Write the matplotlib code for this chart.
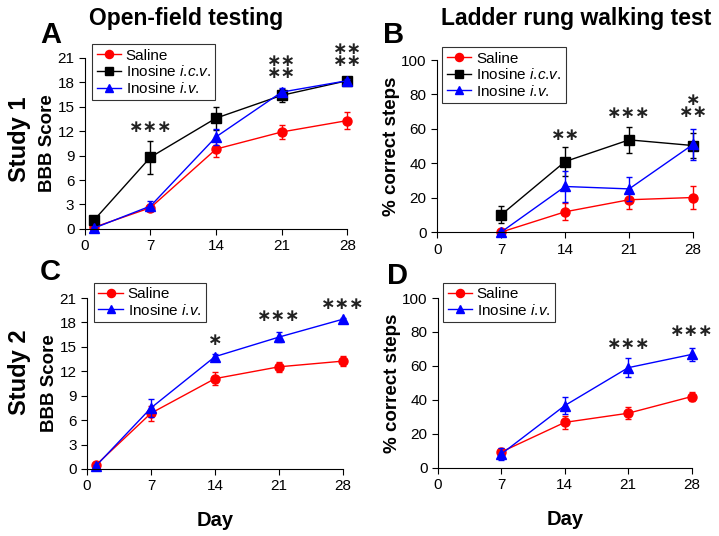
import numpy as np
import matplotlib.pyplot as plt

plt.rcParams['font.family'] = ['Liberation Sans', 'DejaVu Sans']
plt.rcParams['mathtext.fontset'] = 'custom'
plt.rcParams['mathtext.it'] = 'Liberation Sans:italic'
plt.rcParams['mathtext.rm'] = 'Liberation Sans'

# Study 1, open field (BBB score)
daysA = [1, 7, 14, 21, 28]
a_sal = [0.2, 2.6, 9.8, 11.9, 13.3]
a_sal_err = [0.2, 0.4, 1.0, 0.9, 1.0]
a_icv = [1.1, 8.8, 13.6, 16.4, 18.2]
a_icv_err = [0.3, 2.0, 1.4, 0.8, 0.2]
a_iv = [0.1, 2.8, 11.3, 16.8, 18.2]
a_iv_err = [0.1, 0.6, 1.0, 0.5, 0.2]

# Study 1, ladder rung (% correct)
daysB = [7, 14, 21, 28]
b_sal = [0, 11.8, 18.8, 20.1]
b_sal_err = [0.5, 5.0, 5.5, 6.5]
b_icv = [10, 41, 53.6, 50.3]
b_icv_err = [5.0, 8.5, 7.7, 7.0]
b_iv = [0, 26.5, 25.1, 51]
b_iv_err = [0.5, 9.0, 7.0, 9.0]

# Study 2, open field
c_sal = [0.5, 6.85, 11.1, 12.55, 13.25]
c_sal_err = [0.2, 0.9, 0.8, 0.6, 0.6]
c_iv = [0.4, 7.5, 13.8, 16.2, 18.4]
c_iv_err = [0.1, 1.1, 0.3, 0.6, 0.2]

# Study 2, ladder rung
d_sal = [9.4, 26.8, 32.2, 42]
d_sal_err = [2.0, 4.0, 3.5, 2.5]
d_iv = [8.2, 36.7, 59, 66.8]
d_iv_err = [3.5, 5.0, 5.5, 4.0]

# significance stars: (day, y, number of stars)
starsA = [(7, 12.5, 3), (21, 20.6, 2), (21, 19.2, 2), (28, 22.1, 2), (28, 20.6, 2)]
starsB = [(14, 56.5, 2), (21, 69, 3), (28, 77, 1), (28, 70, 2)]
starsC = [(14, 15.9, 1), (21, 18.8, 3), (28, 20.3, 3)]
starsD = [(21, 72.9, 3), (28, 80.5, 3)]

fig = plt.figure(figsize=(7.19, 5.36), dpi=100)
axA = fig.add_axes([0.118, 0.573, 0.365, 0.319])
axB = fig.add_axes([0.608, 0.567, 0.356, 0.321])
axC = fig.add_axes([0.121, 0.125, 0.356, 0.319])
axD = fig.add_axes([0.609, 0.127, 0.353, 0.317])


def series(ax, x, y, e, color, marker, label):
    ax.errorbar(x, y, yerr=e, fmt='none', ecolor=color, elinewidth=1,
                capsize=2.5, capthick=1, clip_on=False)
    ax.plot(x, y, color=color, marker=marker, ms=6.5, lw=1, label=label,
            clip_on=False)


icv = 'Inosine $\\mathit{i}$.$\\mathit{c}$.$\\mathit{v}$.'
ivl = 'Inosine $\\mathit{i}$.$\\mathit{v}$.'

series(axA, daysA, a_sal, a_sal_err, 'red', 'o', 'Saline')
series(axA, daysA, a_icv, a_icv_err, 'black', 's', icv)
series(axA, daysA, a_iv, a_iv_err, 'blue', '^', ivl)

series(axB, daysB, b_sal, b_sal_err, 'red', 'o', 'Saline')
series(axB, daysB, b_icv, b_icv_err, 'black', 's', icv)
series(axB, daysB, b_iv, b_iv_err, 'blue', '^', ivl)

series(axC, daysA, c_sal, c_sal_err, 'red', 'o', 'Saline')
series(axC, daysA, c_iv, c_iv_err, 'blue', '^', ivl)

series(axD, daysB, d_sal, d_sal_err, 'red', 'o', 'Saline')
series(axD, daysB, d_iv, d_iv_err, 'blue', '^', ivl)

for ax, stars in [(axA, starsA), (axB, starsB), (axC, starsC), (axD, starsD)]:
    for d, y, n in stars:
        ax.text(d, y, '\u2217' * n, ha='center', va='center', fontsize=12.5,
                fontweight='bold', color='#222222', family='DejaVu Sans',
                clip_on=False)

for ax in [axA, axC]:
    ax.set_xlim(0, 28)
    ax.set_ylim(0, 21)
    ax.set_yticks(np.arange(0, 22, 3))
    ax.set_ylabel('BBB Score', fontsize=13.5, fontweight='bold', labelpad=1)
for ax in [axB, axD]:
    ax.set_xlim(0, 28)
    ax.set_ylim(0, 100)
    ax.set_yticks(np.arange(0, 101, 20))
    ax.set_ylabel('% correct steps', fontsize=13.5, fontweight='bold', labelpad=1)

leg_pos = {axA: (0.027, 1.08), axB: (0.02, 1.075), axC: (0.027, 1.09), axD: (0.02, 1.09)}
for ax in [axA, axB, axC, axD]:
    ax.set_xticks([0, 7, 14, 21, 28])
    ax.spines['top'].set_visible(False)
    ax.spines['right'].set_visible(False)
    ax.tick_params(labelsize=11, length=4, direction='out')
    leg = ax.legend(loc='upper left', bbox_to_anchor=leg_pos[ax], fontsize=11,
                    frameon=True, fancybox=False, handlelength=1.6,
                    borderpad=0.3, labelspacing=0.1, handletextpad=0.3,
                    borderaxespad=0, markerscale=0.9)
    leg.get_frame().set_edgecolor('black')
    leg.get_frame().set_linewidth(0.8)

axC.set_xlabel('Day', fontsize=14.5, fontweight='bold', labelpad=13)
axD.set_xlabel('Day', fontsize=14.5, fontweight='bold', labelpad=13)

fig.text(0.259, 0.966, 'Open-field testing', fontsize=16.5, fontweight='bold', ha='center', va='center')
fig.text(0.802, 0.966, 'Ladder rung walking test', fontsize=16.5, fontweight='bold', ha='center', va='center')
fig.text(0.07, 0.935, 'A', fontsize=21, fontweight='bold', ha='center', va='center')
fig.text(0.547, 0.935, 'B', fontsize=21, fontweight='bold', ha='center', va='center')
fig.text(0.07, 0.492, 'C', fontsize=21, fontweight='bold', ha='center', va='center')
fig.text(0.553, 0.485, 'D', fontsize=21, fontweight='bold', ha='center', va='center')
fig.text(0.027, 0.74, 'Study 1', fontsize=17, fontweight='bold', rotation=90, ha='center', va='center')
fig.text(0.027, 0.306, 'Study 2', fontsize=17, fontweight='bold', rotation=90, ha='center', va='center')

fig.savefig('out.png', dpi=100)
